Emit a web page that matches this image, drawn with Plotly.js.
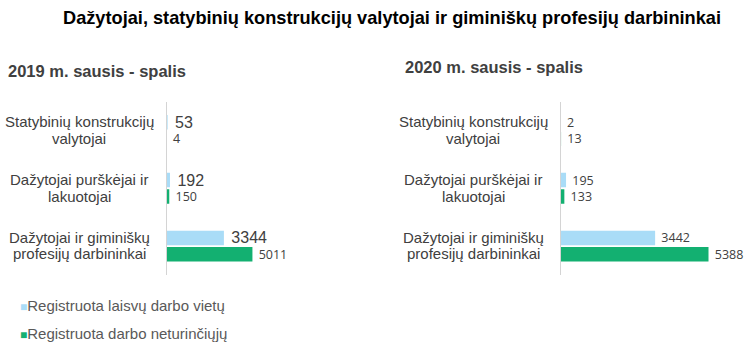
<!DOCTYPE html>
<html>
<head>
<meta charset="utf-8">
<script src="https://cdn.plot.ly/plotly-3.0.1.min.js"></script>
<style>html,body{margin:0;padding:0;background:#fff;}#chart{width:751px;height:353px;}</style>
</head>
<body>
<div id="chart"></div>
<script>
const title = "Dažytojai, statybinių konstrukcijų valytojai ir giminiškų profesijų darbininkai";
const categories = ["Statybinių konstrukcijų<br>valytojai", "Dažytojai purškėjai ir<br>lakuotojai", "Dažytojai ir giminiškų<br>profesijų darbininkai"];
const seriesNames = ["Registruota laisvų darbo vietų", "Registruota darbo neturinčiųjų"];
const panelTitles = ["2019 m. sausis - spalis", "2020 m. sausis - spalis"];
const vacancies2019 = [53, 192, 3344];
const unemployed2019 = [4, 150, 5011];
const vacancies2020 = [2, 195, 3442];
const unemployed2020 = [13, 133, 5388];

const blue = "#a9dcf7";
const green = "#13b071";
const txt = "#404040";
const W = 751, H = 353;

function bar(x, color, xa, ya, font) {
  return {
    type: "bar", orientation: "h", x: x, y: categories, xaxis: xa, yaxis: ya,
    marker: {color: color}, text: x.map(v => "\u00a0" + v), textposition: "outside", constraintext: "none",
    textfont: font, cliponaxis: false, hoverinfo: "skip", showlegend: false
  };
}
const arialBig = {family: "Arial, Liberation Sans", size: 16, color: txt};
const small = {family: "Open Sans", size: 12.5, color: txt};

const data = [
  bar(vacancies2019, blue, "x", "y", arialBig),
  bar(unemployed2019, green, "x", "y", small),
  bar(vacancies2020, blue, "x2", "y2", small),
  bar(unemployed2020, green, "x2", "y2", small)
];

const ydom = [(H - 275) / H, (H - 101.7) / H];
const yaxisBase = {
  domain: ydom, type: "category", autorange: "reversed", showticklabels: false,
  showgrid: false, zeroline: false, showline: true, linecolor: "#d4d4d4", linewidth: 1, ticks: ""
};
const xaxisBase = {showticklabels: false, showgrid: false, zeroline: false, showline: false, ticks: ""};

const annotations = [];
const labelCenters = [79 / W, 473 / W];
["y", "y2"].forEach((yr, p) => {
  categories.forEach(c => {
    const lines = c.split("<br>");
    lines.forEach((ln, i) => annotations.push({
      xref: "paper", yref: yr, x: labelCenters[p], y: c, xanchor: "center", yanchor: "middle",
      yshift: ((lines.length - 1) / 2 - i) * 16.5 + 0.5,
      text: ln, showarrow: false, align: "center",
      font: {family: "Arial, Liberation Sans", size: 15, color: txt}
    }));
  });
});
annotations.push({xref: "paper", yref: "paper", x: 6 / W, y: 1 - 70.7 / H, xanchor: "left", yanchor: "middle",
  text: "<b>" + panelTitles[0] + "</b>", showarrow: false, font: {family: "Arial, Liberation Sans", size: 16.5, color: txt}});
annotations.push({xref: "paper", yref: "paper", x: 403 / W, y: 1 - 67 / H, xanchor: "left", yanchor: "middle",
  text: "<b>" + panelTitles[1] + "</b>", showarrow: false, font: {family: "Arial, Liberation Sans", size: 16.5, color: txt}});
const legendColors = [blue, green];
const legendY = [305.7, 333];
seriesNames.forEach((n, i) => annotations.push({
  xref: "paper", yref: "paper", x: 18 / W, y: 1 - legendY[i] / H, xanchor: "left", yanchor: "middle",
  text: '<span style="color:' + legendColors[i] + ';font-size:12px">■</span>' + n, showarrow: false,
  font: {family: "Arial, Liberation Sans", size: 15, color: "#595959"}
}));

const layout = {
  width: W, height: H, margin: {l: 0, r: 0, t: 0, b: 0},
  paper_bgcolor: "#fff", plot_bgcolor: "rgba(0,0,0,0)",
  title: {text: "<b>" + title + "</b>", x: 392 / W, xanchor: "center", xref: "paper",
    y: 1 - 18 / H, yanchor: "middle", yref: "container",
    font: {family: "Arial, Liberation Sans", size: 18.2, color: "#000"}},
  barmode: "group", bargap: 0.43, bargroupgap: 0.12,
  xaxis: Object.assign({}, xaxisBase, {domain: [166.7 / W, 372 / W], range: [0, 12000], anchor: "y"}),
  yaxis: Object.assign({}, yaxisBase, {anchor: "x"}),
  xaxis2: Object.assign({}, xaxisBase, {domain: [560.7 / W, 739 / W], range: [0, 6500], anchor: "y2"}),
  yaxis2: Object.assign({}, yaxisBase, {anchor: "x2"}),
  annotations: annotations, showlegend: false
};
Plotly.newPlot("chart", data, layout, {staticPlot: true, displayModeBar: false});
</script>
</body>
</html>
